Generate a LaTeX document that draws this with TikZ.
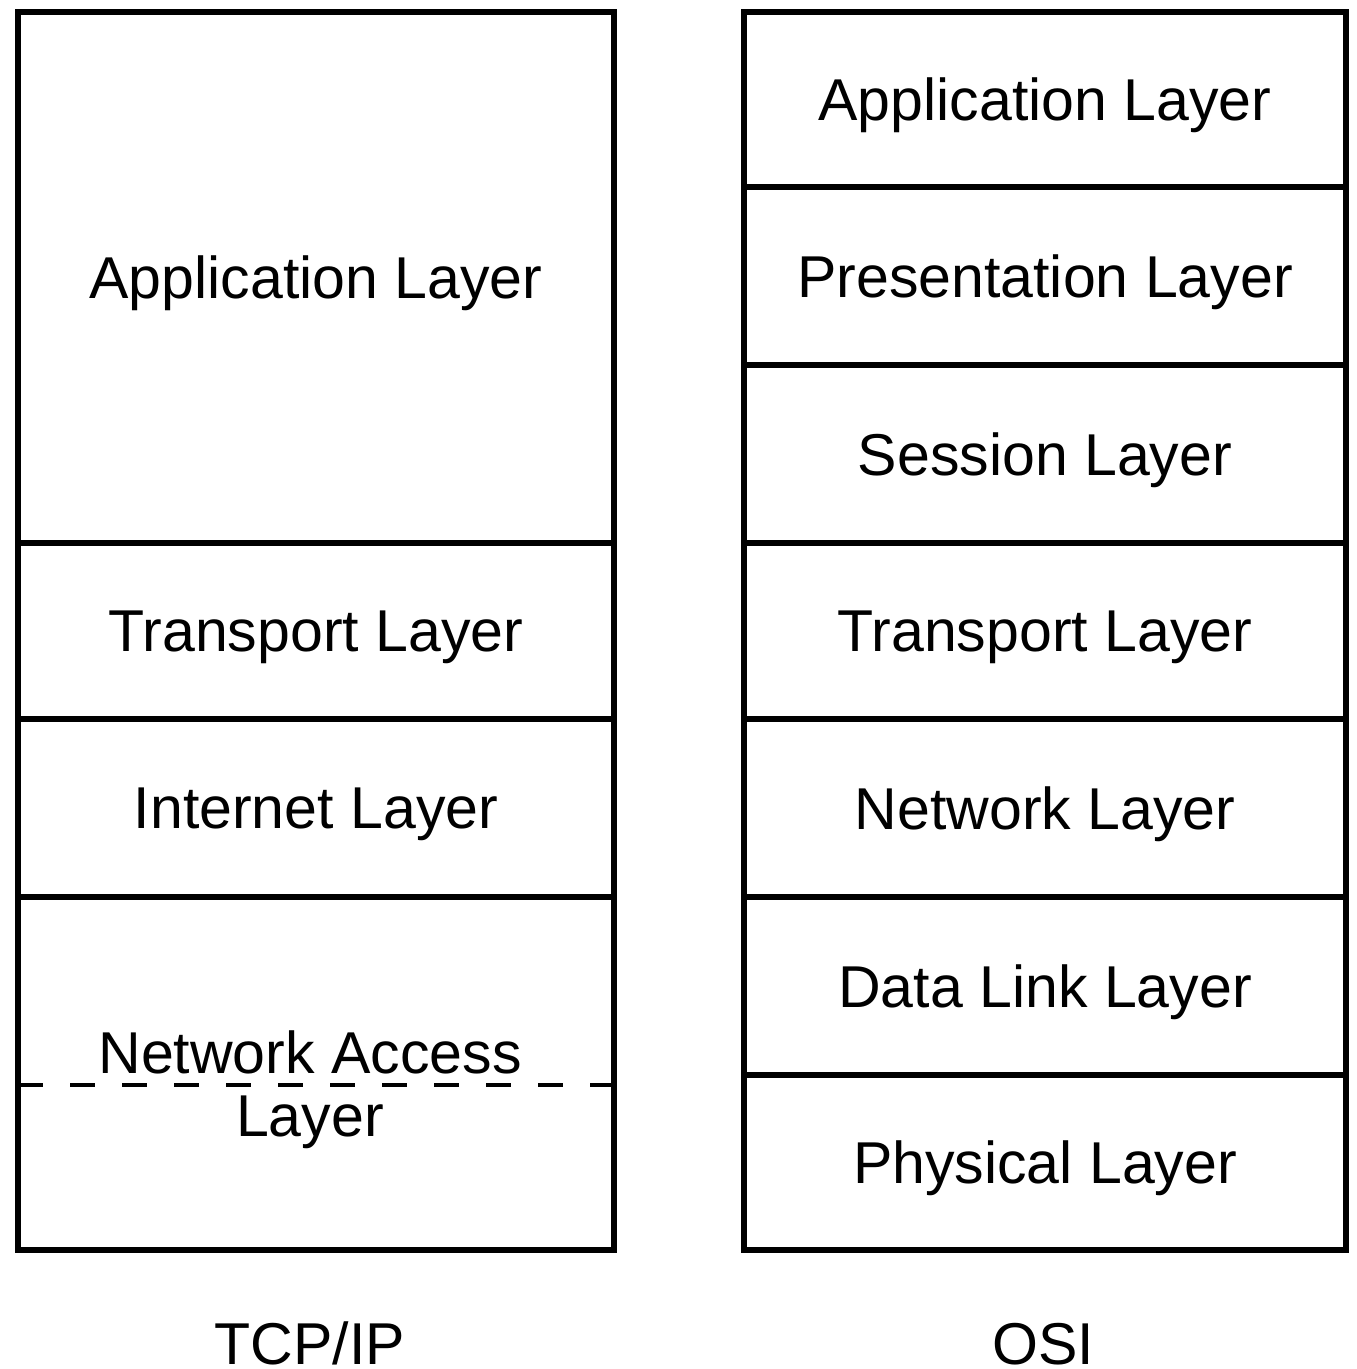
\documentclass[tikz,border=0pt]{standalone}
\usepackage{fontspec}
\setmainfont{Liberation Sans}
\begin{document}
\begin{tikzpicture}[
  layerbox/.style={draw=black, line width=1.7pt, rectangle, inner sep=0pt,
    text depth=0pt, font=\fontsize{16.8}{19}\selectfont},
  caption/.style={font=\fontsize{16.8}{19}\selectfont, anchor=base, inner sep=0pt},
  dashsep/.style={line width=1.3pt, dash pattern=on 0.25cm off 0.27cm}
]
\useasboundingbox (0,0) rectangle (13.56,13.69);

% TCP/IP stack (left)
\node[layerbox, minimum width=5.96cm, minimum height=5.31cm] (tapp) at (3.16,10.915) {Application Layer};
\node[layerbox, minimum width=5.96cm, minimum height=1.76cm] (ttra) at (3.16,7.38) {Transport Layer};
\node[layerbox, minimum width=5.96cm, minimum height=1.78cm] (tint) at (3.16,5.61) {Internet Layer};
\node[layerbox, minimum width=5.96cm, minimum height=3.53cm] (tnet) at (3.16,2.955) {};
\coordinate (dl) at (0.18,2.84);
\coordinate (dr) at (6.14,2.84);
\draw[dashsep] (dl) -- (dr);
\node[font=\fontsize{16.8}{18}\selectfont, align=center, inner sep=0pt] (tnettxt) at (3.10,2.79) {Network Access\\Layer};

% OSI stack (right)
\node[layerbox, minimum width=6.02cm, minimum height=1.75cm] (oapp) at (10.45,12.695) {Application Layer};
\node[layerbox, minimum width=6.02cm, minimum height=1.78cm] (opre) at (10.45,10.93) {Presentation Layer};
\node[layerbox, minimum width=6.02cm, minimum height=1.78cm] (oses) at (10.45,9.15) {Session Layer};
\node[layerbox, minimum width=6.02cm, minimum height=1.76cm] (otra) at (10.45,7.38) {Transport Layer};
\node[layerbox, minimum width=6.02cm, minimum height=1.78cm] (onet) at (10.45,5.61) {Network Layer};
\node[layerbox, minimum width=6.02cm, minimum height=1.78cm] (odat) at (10.45,3.83) {Data Link Layer};
\node[layerbox, minimum width=6.02cm, minimum height=1.75cm] (ophy) at (10.45,2.065) {Physical Layer};

% Stack captions
\node[caption] (ctcp) at (3.10,0.04) {TCP/IP};
\node[caption] (cosi) at (10.43,0.04) {OSI};
\end{tikzpicture}
\end{document}
